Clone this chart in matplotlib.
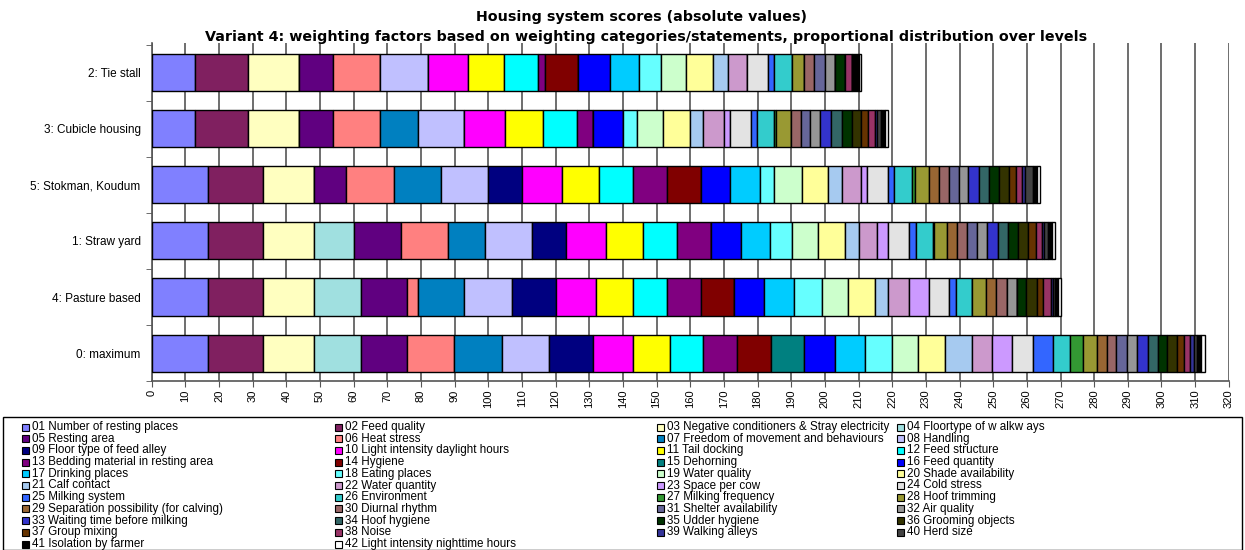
import matplotlib
matplotlib.use('Agg')
import matplotlib.pyplot as plt
import numpy as np
from matplotlib.patches import Rectangle

plt.rcParams['font.family'] = ['Liberation Sans', 'DejaVu Sans']

# categories, bottom to top
systems = ['0: maximum', '4: Pasture based', '1: Straw yard', '5: Stokman, Koudum',
           '3: Cubicle housing', '2: Tie stall']

criteria = ['01 Number of resting places', '02 Feed quality',
            '03 Negative conditioners & Stray electricity', '04 Floortype of w alkw ays',
            '05 Resting area', '06 Heat stress', '07 Freedom of movement and behaviours',
            '08 Handling', '09 Floor type of feed alley', '10 Light intensity daylight hours',
            '11 Tail docking', '12 Feed structure', '13 Bedding material in resting area',
            '14 Hygiene', '15 Dehorning', '16 Feed quantity', '17 Drinking places',
            '18 Eating places', '19 Water quality', '20 Shade availability', '21 Calf contact',
            '22 Water quantity', '23 Space per cow', '24 Cold stress', '25 Milking system',
            '26 Environment', '27 Milking frequency', '28 Hoof trimming',
            '29 Separation possibility (for calving)', '30 Diurnal rhythm',
            '31 Shelter availability', '32 Air quality', '33 Waiting time before milking',
            '34 Hoof hygiene', '35 Udder hygiene', '36 Grooming objects', '37 Group mixing',
            '38 Noise', '39 Walking alleys', '40 Herd size', '41 Isolation by farmer',
            '42 Light intensity nighttime hours']

colours = ['#8080FF', '#802060', '#FFFFC0', '#A0E0E0', '#600080', '#FF8080', '#0080C0',
           '#C0C0FF', '#000080', '#FF00FF', '#FFFF00', '#00FFFF', '#800080', '#800000',
           '#008080', '#0000FF', '#00CCFF', '#66FFFF', '#CCFFCC', '#FFFF99', '#A6CAF0',
           '#CC99CC', '#CC99FF', '#E3E3E3', '#3366FF', '#33CCCC', '#339933', '#999933',
           '#996633', '#996666', '#666699', '#969696', '#3333CC', '#336666', '#003300',
           '#333300', '#663300', '#993366', '#333399', '#424242', '#000000', '#FFFFFF']

# scores per criterion (01..42)
maximum = [16.8, 16.2, 15.2, 13.9, 13.9, 13.9, 14.3, 13.9, 13.1, 11.8, 10.9, 9.9, 10.0, 10.1,
           9.9, 9.2, 9.0, 7.9, 7.7, 8.1, 8.1, 5.7, 6.2, 6.2, 5.9, 4.9, 4.0, 4.2, 3.0, 2.7,
           3.3, 2.9, 3.2, 2.9, 2.8, 3.0, 2.0, 1.9, 1.0, 1.0, 1.2, 1.2]
pasture = [16.8, 16.2, 15.2, 13.9, 13.9, 3.0, 13.9, 14.3, 12.9, 11.8, 11.1, 10.1, 10.1, 9.9,
           0.0, 8.9, 8.8, 8.2, 7.9, 8.0, 4.0, 6.1, 5.9, 6.0, 2.0, 4.9, 0.0, 4.0, 3.0, 3.2,
           0.0, 3.0, 0.0, 0.0, 2.7, 3.2, 1.9, 2.4, 0.6, 0.6, 0.8, 1.0]
straw_yard = [16.8, 16.2, 15.2, 11.9, 13.9, 13.9, 11.1, 14.0, 10.0, 11.9, 11.1, 10.1, 10.0, 0.0,
              0.0, 8.9, 8.8, 6.3, 8.0, 7.8, 4.1, 5.6, 3.3, 6.1, 2.0, 5.0, 0.3, 3.9, 3.0, 3.0,
              3.0, 3.0, 3.1, 3.2, 2.9, 2.8, 2.4, 1.8, 0.6, 1.2, 1.4, 0.8]
stokman = [16.8, 16.2, 15.2, 0.0, 9.5, 14.3, 13.9, 14.1, 10.0, 11.8, 11.2, 10.0, 10.1, 10.0,
           0.0, 8.8, 8.8, 4.3, 8.1, 7.8, 4.3, 5.5, 1.8, 6.2, 1.7, 5.4, 1.0, 4.0, 3.1, 3.0,
           3.0, 2.7, 3.2, 3.0, 3.0, 2.8, 2.3, 1.8, 0.7, 2.5, 1.0, 1.0]
cubicle = [12.9, 15.8, 15.2, 0.0, 10.1, 13.8, 11.2, 13.9, 0.0, 12.2, 11.1, 10.1, 4.9, 0.0,
           0.0, 8.9, 0.0, 4.1, 7.7, 8.1, 3.9, 6.2, 1.7, 6.2, 1.8, 5.2, 0.5, 4.4, 0.0, 2.9,
           2.8, 2.9, 3.2, 3.3, 3.1, 2.6, 2.0, 2.2, 0.7, 1.0, 1.3, 1.0]
tie_stall = [12.9, 15.8, 15.2, 0.0, 10.1, 13.8, 0.0, 14.2, 0.0, 12.1, 10.7, 10.1, 2.0, 9.9,
             0.0, 9.3, 8.7, 6.4, 7.6, 8.1, 4.2, 5.8, 0.0, 6.1, 2.0, 5.1, 0.0, 3.8, 0.0, 2.9,
             3.2, 3.0, 0.0, 0.0, 2.9, 0.0, 0.0, 2.2, 0.0, 0.0, 2.1, 0.5]

scores = np.array([maximum, pasture, straw_yard, stokman, cubicle, tie_stall])

fig = plt.figure(figsize=(12.45, 5.5), dpi=100)
ax = fig.add_axes([0.1218, 0.307, 0.8652, 0.615])

ypos = np.arange(len(systems))
left = np.zeros(len(systems))
for k in range(len(criteria)):
    ax.barh(ypos, scores[:, k], left=left, height=0.66, color=colours[k],
            edgecolor='black', linewidth=1.0, zorder=3, label=criteria[k])
    left += scores[:, k]

ax.set_xlim(0, 320)
ax.set_ylim(-0.47, 5.53)
ax.set_xticks(np.arange(0, 321, 10))
ax.set_xticklabels([str(v) for v in range(0, 321, 10)], rotation=90, fontsize=8)
ax.set_yticks(ypos)
ax.set_yticklabels(systems, fontsize=8.5)
ax.set_yticks(np.arange(-0.5, 5.6, 1), minor=True)
ax.tick_params(axis='y', which='major', length=0, pad=8)
ax.tick_params(axis='y', which='minor', length=4, color='#555555')
ax.tick_params(axis='x', length=4, color='#555555', pad=2)
ax.xaxis.grid(True, color='#555555', linewidth=1.2, zorder=0)
ax.set_axisbelow(True)
for s in ['top', 'right']:
    ax.spines[s].set_visible(False)
ax.spines['left'].set_color('#555555')
ax.spines['bottom'].set_color('#555555')
ax.spines['left'].set_linewidth(1.2)
ax.spines['bottom'].set_linewidth(1.2)

fig.text(0.515, 1 - 17 / 550, 'Housing system scores (absolute values)', ha='center',
         va='center', fontsize=10.3, fontweight='bold', family='DejaVu Sans')
fig.text(0.519, 1 - 37 / 550, 'Variant 4: weighting factors based on weighting categories/statements, '
         'proportional distribution over levels', ha='center', va='center',
         fontsize=10.3, fontweight='bold', family='DejaVu Sans')

# legend, row-wise order in four columns
W, H = 1245.0, 550.0
fig.add_artist(Rectangle((3 / W, 0), 1239 / W, 133 / H, transform=fig.transFigure,
                         facecolor='none', edgecolor='black', linewidth=1.0))
col_x = [22, 335, 657, 897]
for k, name in enumerate(criteria):
    row, col = divmod(k, 4)
    yc = 427 + row * 11.7
    x0 = col_x[col]
    fig.add_artist(Rectangle((x0 / W, 1 - (yc + 3.5) / H), 7 / W, 7 / H,
                             transform=fig.transFigure, facecolor=colours[k],
                             edgecolor='black', linewidth=0.8))
    fig.text((x0 + 10) / W, 1 - yc / H, name, ha='left', va='center', fontsize=8.4)

fig.savefig('out.png', dpi=100)
